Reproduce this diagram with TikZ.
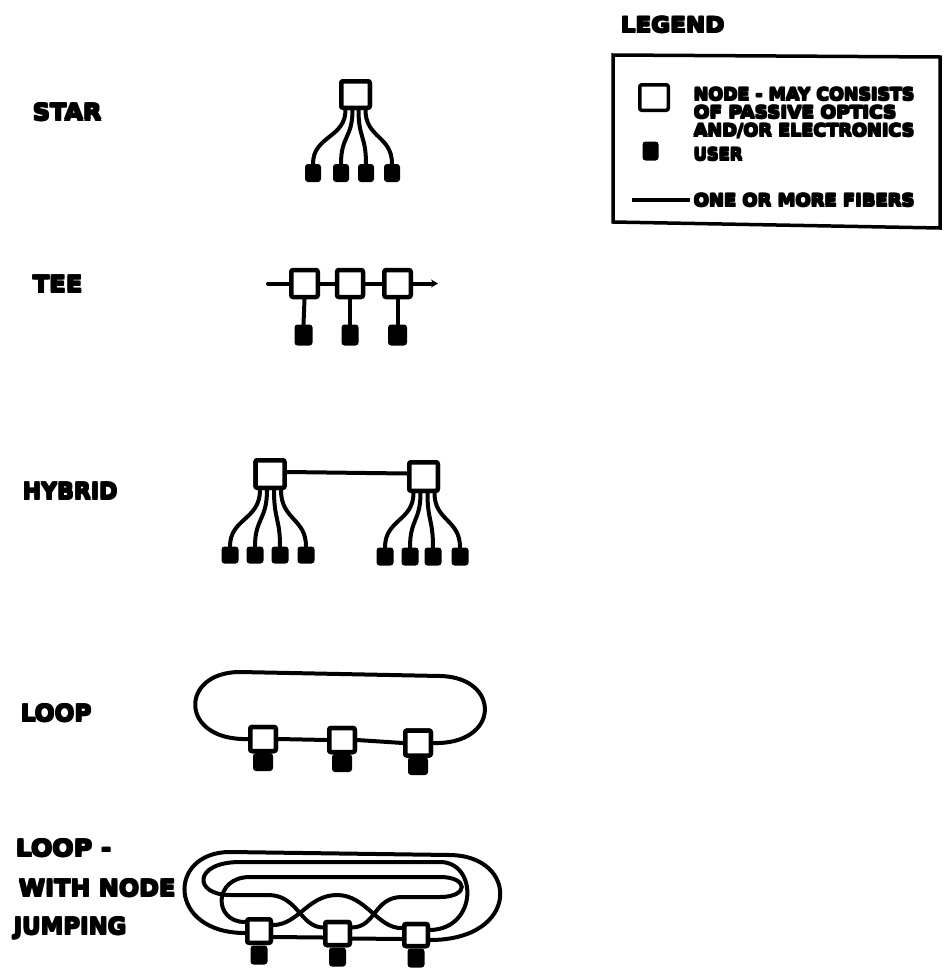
\documentclass[tikz,border=0pt]{standalone}
\usepackage{fontspec}
\usepackage{graphicx}
\setmainfont{DejaVu Sans}
\usetikzlibrary{arrows.meta}
\newlength{\hvd}
\newcommand{\hv}[2]{\leavevmode\setlength{\hvd}{#1}\rlap{#2}\rlap{\kern\hvd#2}\rlap{\raisebox{\hvd}{#2}}\rlap{\kern0.5\hvd\raisebox{0.5\hvd}{#2}}\kern\hvd\raisebox{\hvd}{#2}}
\newcommand{\fitw}[2]{\resizebox{#1}{\height}{#2}}
\tikzset{
  nodebox/.style={draw, fill=white, line width=4.5pt, rounded corners=2pt, inner sep=0pt, minimum width=29pt, minimum height=28pt},
  userbox/.style={fill=black, rounded corners=3pt, inner sep=0pt, minimum width=15pt, minimum height=17pt},
  fiber/.style={line width=4pt, line cap=round},
  biglbl/.style={anchor=base west, inner sep=0pt, font=\fontsize{23}{26}\selectfont\bfseries},
  leglbl/.style={anchor=base west, inner sep=0pt, font=\fontsize{17}{19}\selectfont\bfseries},
}
\begin{document}
\begin{tikzpicture}[x=1pt,y=-1pt]
\useasboundingbox (0,0) rectangle (944,972);

% ---------- labels ----------
\node[biglbl] (tstar) at (32,121) {\fitw{70pt}{\hv{1.3pt}{STAR}}};
\node[biglbl] (ttee) at (32,293) {\fitw{51pt}{\hv{1.3pt}{TEE}}};
\node[biglbl] (thyb) at (22,500) {\fitw{96pt}{\hv{1.3pt}{HYBRID}}};
\node[biglbl] (tloop) at (20,722) {\fitw{72pt}{\hv{1.3pt}{LOOP}}};
\node[biglbl] (tj1) at (15,857) {\fitw{97pt}{\hv{1.3pt}{LOOP -}}};
\node[biglbl] (tj2) at (18,897) {\fitw{158pt}{\hv{1.3pt}{WITH NODE}}};
\node[biglbl] (tj3) at (13,935) {\fitw{114pt}{\hv{1.3pt}{JUMPING}}};

% ---------- STAR ----------
\node[nodebox, minimum width=28.5pt, minimum height=26.5pt] (sn) at (355.5,94.5) {};
\node[userbox, minimum width=16pt, minimum height=18pt] (su1) at (313,173) {};
\node[userbox, minimum width=16pt, minimum height=18pt] (su2) at (341,173) {};
\node[userbox, minimum width=16pt, minimum height=18pt] (su3) at (366,173) {};
\node[userbox, minimum width=16pt, minimum height=18pt] (su4) at (392,173) {};
\begin{scope}[fiber]
\draw ([xshift=-10pt]sn.south) .. controls ([xshift=-10pt,yshift=-28pt]sn.south) and ([yshift=28pt]su1.north) .. (su1.north);
\draw ([xshift=-3pt]sn.south) .. controls ([xshift=-3pt,yshift=-28pt]sn.south) and ([yshift=28pt]su2.north) .. (su2.north);
\draw ([xshift=3pt]sn.south) .. controls ([xshift=3pt,yshift=-28pt]sn.south) and ([yshift=28pt]su3.north) .. (su3.north);
\draw ([xshift=10pt]sn.south) .. controls ([xshift=10pt,yshift=-28pt]sn.south) and ([yshift=28pt]su4.north) .. (su4.north);
\end{scope}
\node[nodebox, minimum width=28.5pt, minimum height=26.5pt] at (sn) {};

% ---------- TEE ----------
\coordinate (tl) at (268,283.5);
\coordinate (tr) at (438,283.5);
\node[nodebox, minimum width=26.5pt, minimum height=27pt] (tn1) at (304.5,283.5) {};
\node[nodebox, minimum width=26pt, minimum height=27pt] (tn2) at (350,283.5) {};
\node[nodebox, minimum width=26.5pt, minimum height=27pt] (tn3) at (397.5,283.5) {};
\draw[fiber] (tl) -- (tn1.west);
\draw[fiber] (tn1.east) -- (tn2.west);
\draw[fiber] (tn2.east) -- (tn3.west);
\draw[line width=4pt, -{Stealth[length=7pt,width=8pt]}] (tn3.east) -- (tr);
\node[userbox, minimum width=18pt, minimum height=21pt] (tu1) at (303.5,335) {};
\node[userbox, minimum width=17pt, minimum height=21pt] (tu2) at (350,335) {};
\node[userbox, minimum width=19pt, minimum height=21pt] (tu3) at (397.5,335) {};
\draw[fiber] (tn1.south) -- (tu1.north);
\draw[fiber] (tn2.south) -- (tu2.north);
\draw[fiber] (tn3.south) -- (tu3.north);

% ---------- HYBRID ----------
\node[nodebox, minimum width=29pt, minimum height=27.5pt] (hl) at (270,474) {};
\node[nodebox, minimum width=28.5pt, minimum height=28.5pt] (hr) at (423.5,476.5) {};
\draw[fiber] ([yshift=2pt]hl.east) -- ([yshift=3pt]hr.west);
\node[userbox, minimum width=17pt, minimum height=17pt] (hu1) at (230,555) {};
\node[userbox, minimum width=17pt, minimum height=17pt] (hu2) at (255,555) {};
\node[userbox, minimum width=17pt, minimum height=17pt] (hu3) at (280,555) {};
\node[userbox, minimum width=17pt, minimum height=17pt] (hu4) at (306,555) {};
\node[userbox, minimum width=17pt, minimum height=18pt] (hu5) at (385,556.5) {};
\node[userbox, minimum width=17pt, minimum height=18pt] (hu6) at (410,556.5) {};
\node[userbox, minimum width=17pt, minimum height=18pt] (hu7) at (433,556.5) {};
\node[userbox, minimum width=17pt, minimum height=18pt] (hu8) at (460,556.5) {};
\begin{scope}[fiber]
\draw ([xshift=-10pt]hl.south) .. controls ([xshift=-10pt,yshift=-30pt]hl.south) and ([yshift=28pt]hu1.north) .. (hu1.north);
\draw ([xshift=-3pt]hl.south) .. controls ([xshift=-3pt,yshift=-30pt]hl.south) and ([yshift=28pt]hu2.north) .. (hu2.north);
\draw ([xshift=4pt]hl.south) .. controls ([xshift=4pt,yshift=-30pt]hl.south) and ([yshift=28pt]hu3.north) .. (hu3.north);
\draw ([xshift=11pt]hl.south) .. controls ([xshift=11pt,yshift=-30pt]hl.south) and ([yshift=28pt]hu4.north) .. (hu4.north);
\draw ([xshift=-10pt]hr.south) .. controls ([xshift=-10pt,yshift=-28pt]hr.south) and ([yshift=28pt]hu5.north) .. (hu5.north);
\draw ([xshift=-3pt]hr.south) .. controls ([xshift=-3pt,yshift=-28pt]hr.south) and ([yshift=28pt]hu6.north) .. (hu6.north);
\draw ([xshift=4pt]hr.south) .. controls ([xshift=4pt,yshift=-28pt]hr.south) and ([yshift=28pt]hu7.north) .. (hu7.north);
\draw ([xshift=11pt]hr.south) .. controls ([xshift=11pt,yshift=-28pt]hr.south) and ([yshift=28pt]hu8.north) .. (hu8.north);
\end{scope}
\node[nodebox, minimum width=29pt, minimum height=27.5pt] at (hl) {};
\node[nodebox, minimum width=28.5pt, minimum height=28.5pt] at (hr) {};

% ---------- LOOP ----------
\node[nodebox, minimum width=25.5pt, minimum height=24pt] (ln1) at (263,739) {};
\node[nodebox, minimum width=25.5pt, minimum height=24pt] (ln2) at (342,740) {};
\node[nodebox, minimum width=25.5pt, minimum height=25pt] (ln3) at (418,743) {};
\node[userbox, minimum width=20pt, minimum height=18pt] (lu1) at (263,762) {};
\node[userbox, minimum width=20pt, minimum height=18pt] (lu2) at (342,763) {};
\node[userbox, minimum width=20pt, minimum height=18pt] (lu3) at (418,766) {};
\begin{scope}[fiber]
\draw (ln1.west) .. controls (179,741) and (179,672) .. (240,672) -- (440,676) .. controls (501,677) and (501,745) .. (ln3.east);
\draw (ln1.east) -- (ln2.west);
\draw (ln2.east) -- (ln3.west);
\end{scope}
\node[nodebox, minimum width=25.5pt, minimum height=24pt] at (ln1) {};
\node[nodebox, minimum width=25.5pt, minimum height=24pt] at (ln2) {};
\node[nodebox, minimum width=25.5pt, minimum height=25pt] at (ln3) {};

% ---------- LOOP WITH NODE JUMPING ----------
\node[nodebox, minimum width=23.5pt, minimum height=23.5pt] (jn1) at (259,931) {};
\node[nodebox, minimum width=24.5pt, minimum height=23pt] (jn2) at (337.5,933.5) {};
\node[nodebox, minimum width=23.5pt, minimum height=22pt] (jn3) at (416,935) {};
\node[userbox, minimum width=17pt, minimum height=19pt] (ju1) at (259,955) {};
\node[userbox, minimum width=17pt, minimum height=19pt] (ju2) at (337.5,957) {};
\node[userbox, minimum width=17pt, minimum height=19pt] (ju3) at (416,958) {};
\begin{scope}[fiber]
% outer loop 1-3
\draw ([yshift=-2pt]jn1.west) .. controls (167,933) and (167,852) .. (230,852) -- (450,855) .. controls (520,856) and (520,940) .. ([yshift=-5pt]jn3.east);
% second loop 3 -> 2 around node 1
\draw ([yshift=5pt]jn3.east) .. controls (478,929) and (478,862) .. (440,862) -- (240,862) .. controls (193,862) and (193,895) .. (230,895) -- (268,895) .. controls (298,895) and (300,927) .. ([yshift=6pt]jn2.west);
% inner loop 2 -> 1 around node 3
\draw ([yshift=6pt]jn2.east) .. controls (376,927) and (374,897) .. (402,897) -- (440,897) .. controls (469,897) and (469,877) .. (440,877) -- (250,877) .. controls (213,877) and (213,922) .. ([yshift=9pt]jn1.west);
% jump 1 -> 3 over node 2
\draw ([yshift=6pt]jn1.east) .. controls (298,925) and (308,895) .. (337,895) .. controls (366,895) and (378,929) .. ([yshift=7pt]jn3.west);
% straight neighbours
\draw ([yshift=-6pt]jn1.east) -- ([yshift=-4pt]jn2.west);
\draw ([yshift=-5pt]jn2.east) -- ([yshift=-4pt]jn3.west);
\end{scope}
\node[nodebox, minimum width=23.5pt, minimum height=23.5pt] at (jn1) {};
\node[nodebox, minimum width=24.5pt, minimum height=23pt] at (jn2) {};
\node[nodebox, minimum width=23.5pt, minimum height=22pt] at (jn3) {};

% ---------- LEGEND ----------
\node[anchor=base west, inner sep=0pt, font=\fontsize{21}{24}\selectfont\bfseries] (tleg) at (620,33) {\fitw{105pt}{\hv{1.3pt}{LEGEND}}};
\draw[line width=3.5pt] (613,55) -- (940,57) -- (940,228) -- (613,222) -- cycle;
\node[nodebox, line width=3.5pt, minimum width=28.5pt, minimum height=25.5pt] (lgn) at (654,97.5) {};
\node[userbox, minimum width=16pt, minimum height=19pt] (lgu) at (650.5,151) {};
\coordinate (lgf1) at (632,200);
\coordinate (lgf2) at (690,200);
\draw[line width=3.5pt] (lgf1) -- (lgf2);
\node[leglbl] (lt1) at (693,101) {\fitw{222pt}{\hv{1.3pt}{NODE - MAY CONSISTS}}};
\node[leglbl] (lt2) at (693,119) {\fitw{204pt}{\hv{1.3pt}{OF PASSIVE OPTICS}}};
\node[leglbl] (lt3) at (693,137) {\fitw{222pt}{\hv{1.3pt}{AND/OR ELECTRONICS}}};
\node[leglbl] (lt4) at (693,161) {\fitw{50pt}{\hv{1.3pt}{USER}}};
\node[leglbl] (lt5) at (693,207) {\fitw{222pt}{\hv{1.3pt}{ONE OR MORE FIBERS}}};
\end{tikzpicture}
\end{document}
